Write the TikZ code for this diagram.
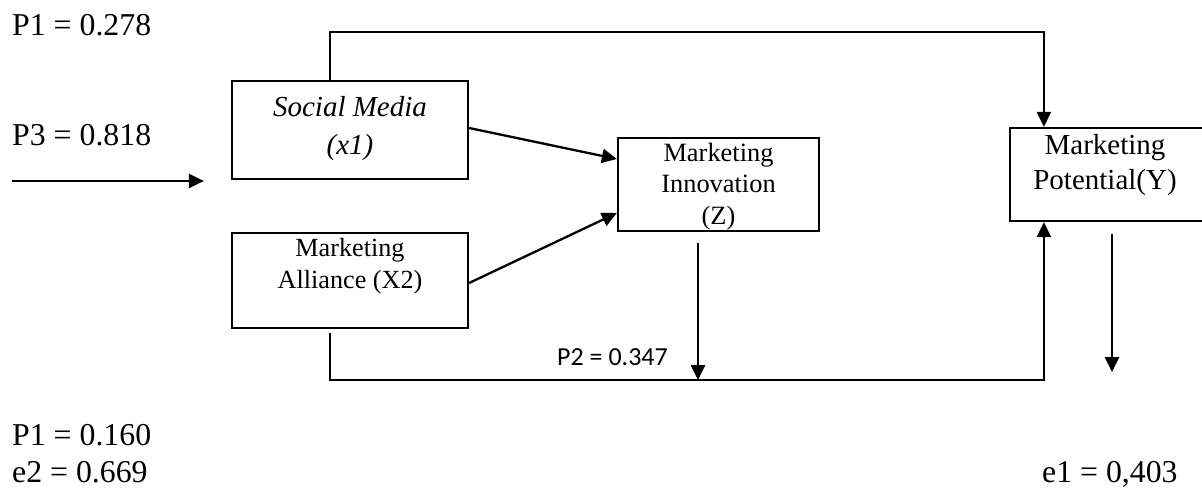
\documentclass[tikz,border=0pt]{standalone}
\usepackage{fontspec}
\setmainfont{Liberation Serif}
\newfontfamily\calibri{Carlito}
\usetikzlibrary{arrows.meta,positioning}

\begin{document}
\begin{tikzpicture}[x=1pt, y=-1pt,
  caja/.style={rectangle, draw, line width=2.2pt, inner sep=0pt},
  texto/.style={align=center, inner sep=0pt},
  valor/.style={anchor=base west, inner sep=0pt, font=\fontsize{31.8}{36}\selectfont},
  flecha/.style={line width=2.3pt, -{Triangle[length=15pt, width=14pt]}}]
\useasboundingbox (0,0) rectangle (1202,490);
% cajas
\node[caja, minimum width=236pt, minimum height=98pt](sm) at (350,130){};
\node[caja, minimum width=236pt, minimum height=95pt](ma) at (350,280.5){};
\node[caja, minimum width=201pt, minimum height=93pt](mi) at (718.5,184.5){};
\node[caja, minimum width=194pt, minimum height=93pt](mp) at (1107,174.5){};
\node[texto, font=\fontsize{29}{38}\selectfont\itshape](smt) at (350,129){Social Media\\(x1)};
\node[texto, font=\fontsize{26.2}{32}\selectfont](mat) at (350,266){Marketing\\Alliance (X2)};
\node[texto, font=\fontsize{26.4}{31.5}\selectfont](mit) at (718.5,186.5){Marketing\\Innovation\\(Z)};
\node[texto, font=\fontsize{29}{35}\selectfont](mpt) at (1105,165.5){Marketing\\Potential(Y)};
% valores
\node[valor](p1a) at (12,35){P1 = 0.278};
\node[valor](p3) at (12,145){P3 = 0.818};
\node[valor](p1b) at (12,445){P1 = 0.160};
\node[valor](e2) at (12,482){e2 = 0.669};
\node[valor](e1) at (1042,482){e1 = 0,403};
\node[valor, font=\calibri\fontsize{26}{30}\selectfont](p2) at (557,365){P2 = 0.347};
% flechas
\coordinate (p3a) at (12,181);
\draw[flecha](p3a)--([xshift=-27pt]sm.west |- p3a);
\draw[flecha]([yshift=2pt]sm.east)--([yshift=25.5pt]mi.west);
\draw[flecha]([yshift=-2.5pt]ma.east)--([yshift=-28.5pt]mi.west);
\draw[flecha]([xshift=-20pt]sm.north)--++(0,-48)-|([xshift=35pt]mp.north west);
\draw[flecha]([xshift=-20pt, yshift=-4pt]ma.south)--++(0,47)-|([xshift=35pt]mp.south west);
\draw[flecha]([xshift=-20.5pt, yshift=-11pt]mi.south)--++(0,137);
\draw[flecha]([xshift=5pt, yshift=-12pt]mp.south)--++(0,138);
\end{tikzpicture}
\end{document}
